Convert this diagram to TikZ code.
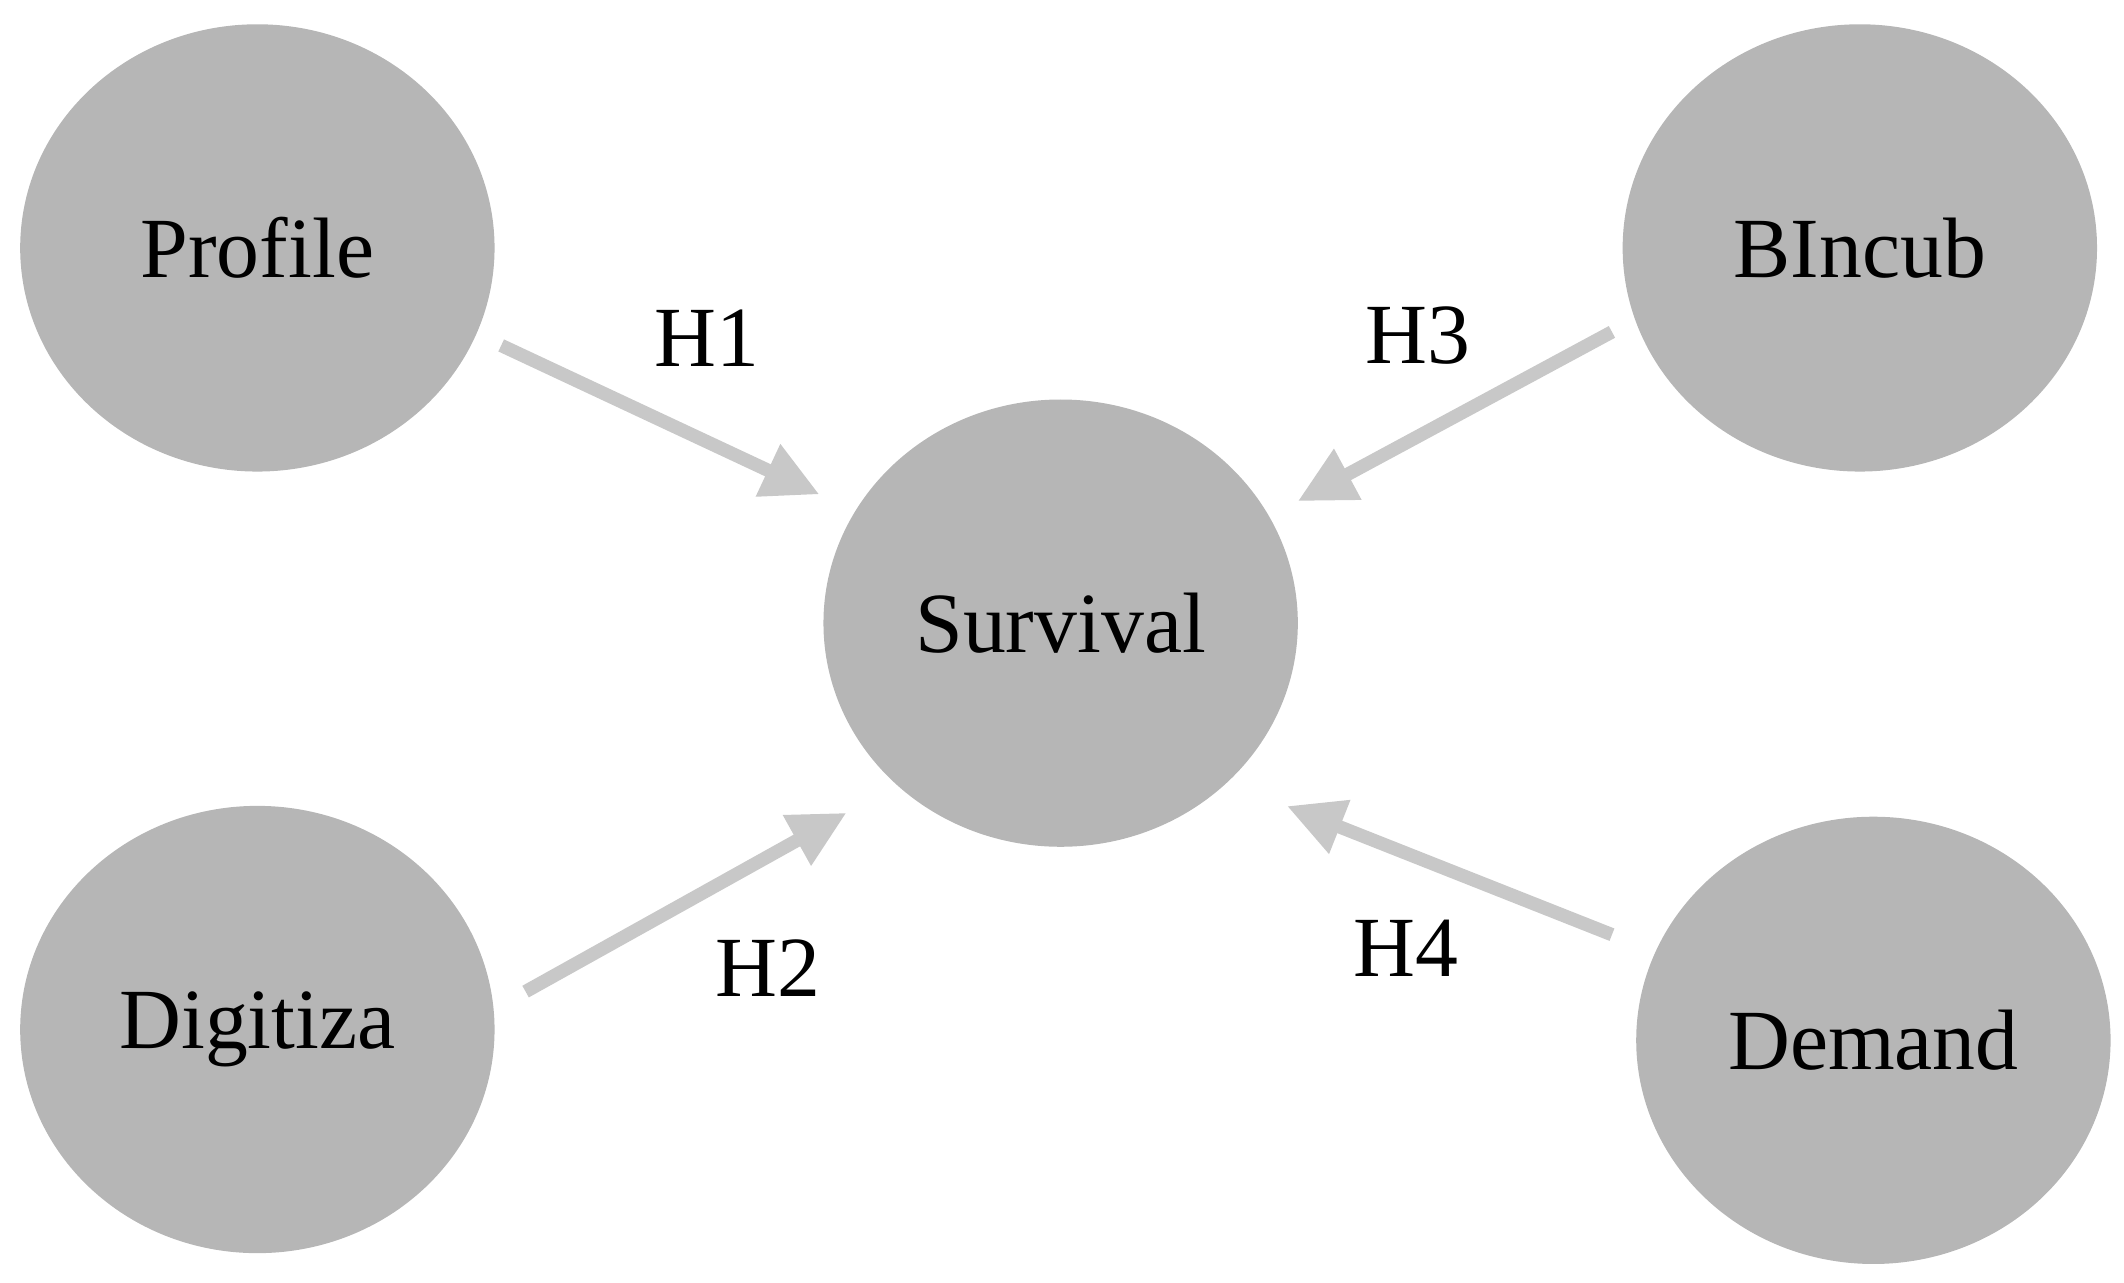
\documentclass[tikz,border=0pt]{standalone}
\usepackage{fontspec}
\setmainfont{Liberation Serif}
\usetikzlibrary{arrows.meta}
\begin{document}
\begin{tikzpicture}[x=0.01cm,y=-0.01cm,
  var/.style={ellipse,fill={rgb,255:red,182;green,182;blue,182},minimum width=3.5cm,minimum height=3.3cm,inner sep=0pt,font=\fontsize{18}{20}\selectfont},
  hyp/.style={draw={rgb,255:red,200;green,200;blue,200},line width=2.8pt,-{Triangle[length=0.42cm,width=0.4cm]}},
  lab/.style={font=\fontsize{18}{20}\selectfont}]
\useasboundingbox (0,0) rectangle (1568,947);
\usetikzlibrary{shapes.geometric}
\node[var] (p) at (190,183) {Profile};
\node[var] (s) at (783,460) {Survival};
\node[var] (b) at (1373,183) {BIncub};
\node[var] (d) at (190,760) {Digitiza};
\node[var] (m) at (1383,768) {Demand};
\coordinate (p1) at (370,255); \coordinate (s1) at (605,365);
\coordinate (b1) at (1190,245); \coordinate (s3) at (958,370);
\coordinate (d1) at (388,732); \coordinate (s2) at (625,600);
\coordinate (m1) at (1190,690); \coordinate (s4) at (950,595);
\draw[hyp] (p1) -- (s1);
\draw[hyp] (b1) -- (s3);
\draw[hyp] (d1) -- (s2);
\draw[hyp] (m1) -- (s4);
\node[lab] (h1) at (522,250) {H1};
\node[lab] (h3) at (1047,248) {H3};
\node[lab] (h2) at (567,715) {H2};
\node[lab] (h4) at (1038,700) {H4};
\end{tikzpicture}
\end{document}
